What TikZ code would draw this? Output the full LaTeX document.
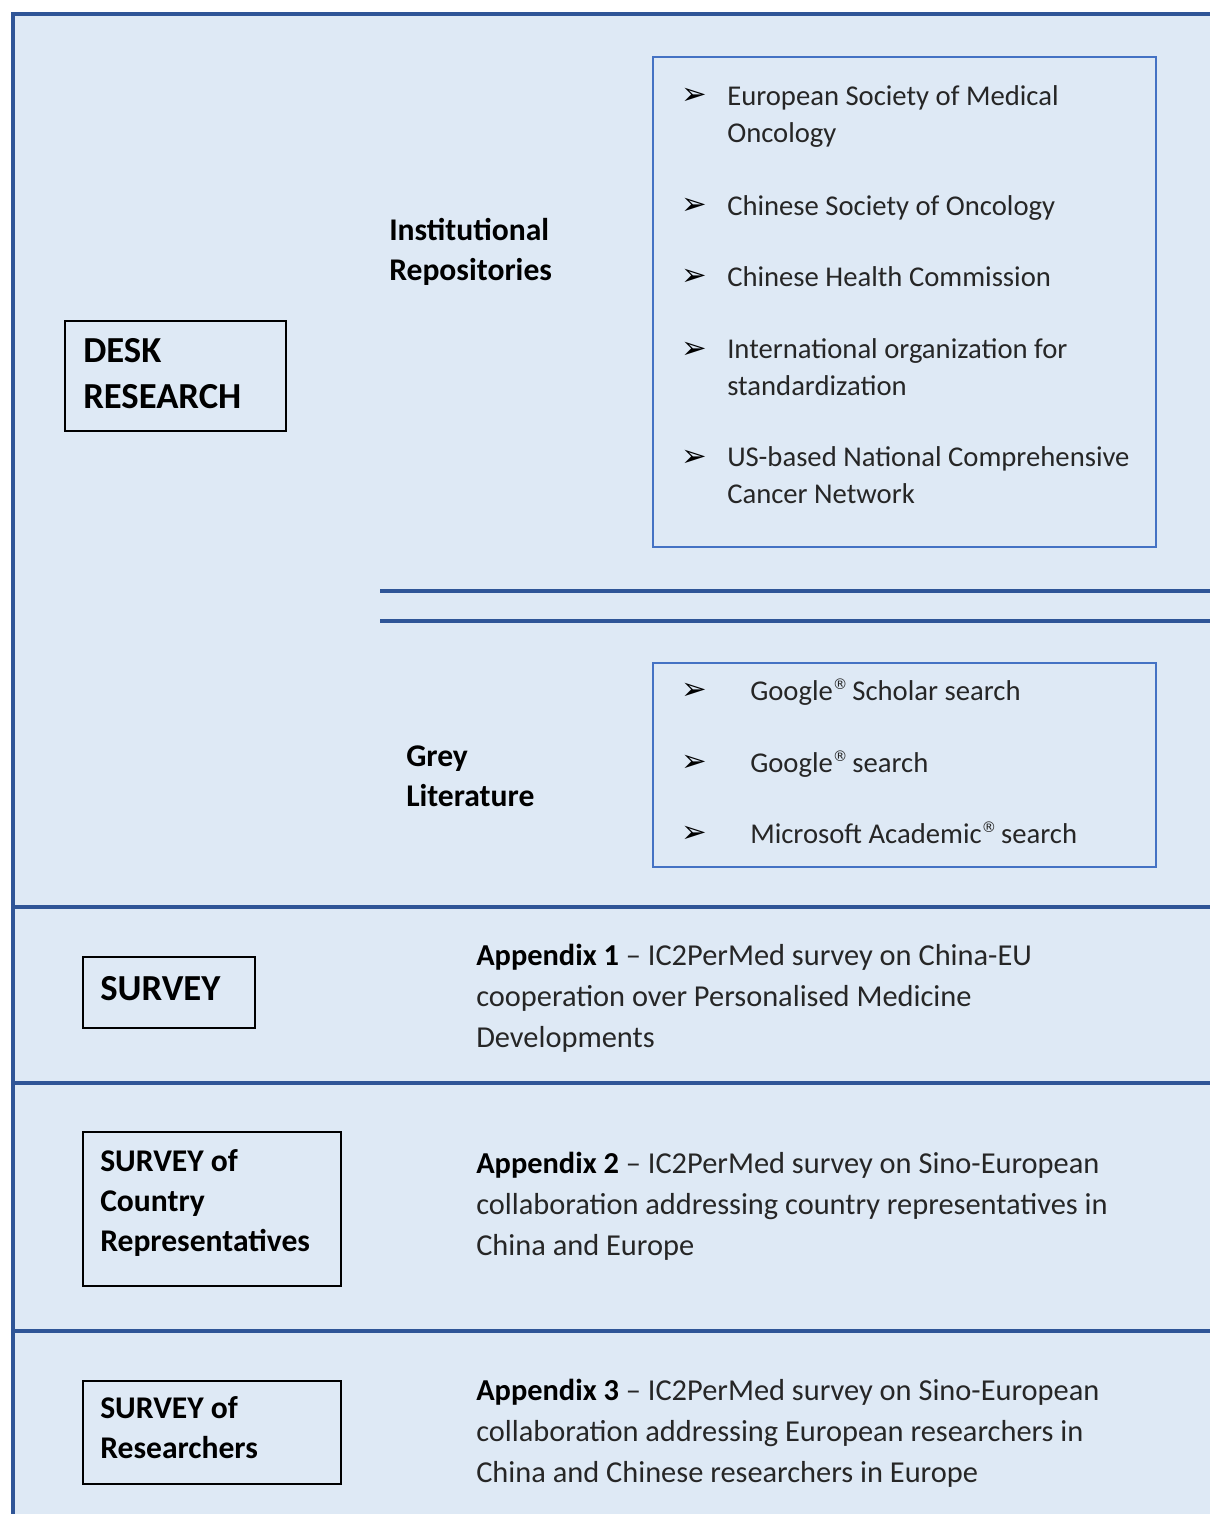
\documentclass[tikz,border=0pt]{standalone}
\usepackage{fontspec}
\setmainfont{Carlito}
\newfontfamily\symfont{DejaVu Sans}
\definecolor{framec}{HTML}{2F5597}
\definecolor{bgc}{HTML}{DEE9F5}
\definecolor{boxblue}{HTML}{4472C4}
\definecolor{txtc}{HTML}{262626}
\newcommand{\regmark}{\raisebox{0.36em}{\symfont\fontsize{11}{11}\selectfont ®}}
\begin{document}
\begin{tikzpicture}[x=0.75pt,y=-0.75pt,
  txt/.style={anchor=base west, inner sep=0pt, text=txtc, align=left, font=\fontsize{21.5}{27.75}\selectfont},
  apx/.style={anchor=base west, inner sep=0pt, text=txtc, align=left, font=\fontsize{22.8}{30.4}\selectfont},
  lbl/.style={anchor=base west, inner sep=0pt, text=black, align=left, font=\bfseries\fontsize{23.7}{30}\selectfont},
  big/.style={anchor=base west, inner sep=0pt, text=black, align=left, font=\bfseries\fontsize{27.5}{34.5}\selectfont},
  bul/.style={anchor=base west, inner sep=0pt, text=black, font=\symfont\fontsize{23}{23}\selectfont},
  blackbox/.style={draw=black, line width=1.5pt, fill=none},
  bluebox/.style={draw=boxblue, line width=1.1pt, fill=none},
  rule/.style={draw=framec, line width=2.4pt}]
\useasboundingbox (0,0) rectangle (1210,1514);
\fill[white] (0,0) rectangle (1210,1514);
\fill[bgc] (13,14) rectangle (1210,1514);
% frame
\coordinate (tl) at (13,14);
\coordinate (tr) at (1210,14);
\coordinate (bl) at (13,1514);
\draw[rule] (bl) -- (tl) -- (tr);
% section dividers
\coordinate (d1l) at (13,907); \coordinate (d1r) at (1210,907);
\coordinate (d2l) at (13,1083); \coordinate (d2r) at (1210,1083);
\coordinate (d3l) at (13,1331); \coordinate (d3r) at (1210,1331);
\draw[rule] (d1l) -- (d1r);
\draw[rule] (d2l) -- (d2r);
\draw[rule] (d3l) -- (d3r);
% double line
\coordinate (e1l) at (380,591); \coordinate (e1r) at (1210,591);
\coordinate (e2l) at (380,621); \coordinate (e2r) at (1210,621);
\draw[rule] (e1l) -- (e1r);
\draw[rule] (e2l) -- (e2r);
% boxes
\draw[blackbox] (65,321) rectangle (286,431);
\draw[blackbox] (83,957) rectangle (255,1028);
\draw[blackbox] (83,1132) rectangle (341,1286);
\draw[blackbox] (83,1381) rectangle (341,1484);
\draw[bluebox] (653,57) rectangle (1156,547);
\draw[bluebox] (653,663) rectangle (1156,867);
% left labels (anchor at last line baseline)
\node[big] (desk) at (83,408) {DESK\\RESEARCH};
\node[big] (survey) at (100,1000) {SURVEY};
\node[lbl] (country) at (100,1251) {SURVEY of\\Country\\Representatives};
\node[lbl] (researchers) at (100,1458) {SURVEY of\\Researchers};
\node[lbl] (inst) at (389,280) {Institutional\\Repositories};
\node[lbl] (grey) at (406,806) {Grey\\Literature};
% institutional list
\node[bul] (b1) at (681,104) {➢};
\node[txt] (i1) at (727,142) {European Society of Medical\\Oncology};
\node[bul] (b2) at (681,214) {➢};
\node[txt] (i2) at (727,215) {Chinese Society of Oncology};
\node[bul] (b3) at (681,285) {➢};
\node[txt] (i3) at (727,286) {Chinese Health Commission};
\node[bul] (b4) at (681,358) {➢};
\node[txt] (i4) at (727,395) {International organization for\\standardization};
\node[bul] (b5) at (681,466) {➢};
\node[txt] (i5) at (727,503) {US-based National Comprehensive\\Cancer Network};
% grey literature list
\node[bul] (g1b) at (681,699) {➢};
\node[txt] (g1) at (750,700) {Google\regmark\,Scholar search};
\node[bul] (g2b) at (681,771) {➢};
\node[txt] (g2) at (750,772) {Google\regmark\,search};
\node[bul] (g3b) at (681,842) {➢};
\node[txt] (g3) at (750,843) {Microsoft Academic\regmark\,search};
% appendices
\node[apx] (a1) at (476,1047) {\textbf{\color{black}Appendix 1} -- IC2PerMed survey on China-EU\\cooperation over Personalised Medicine\\Developments};
\node[apx] (a2) at (476,1255) {\textbf{\color{black}Appendix 2} -- IC2PerMed survey on Sino-European\\collaboration addressing country representatives in\\China and Europe};
\node[apx] (a3) at (476,1482) {\textbf{\color{black}Appendix 3} -- IC2PerMed survey on Sino-European\\collaboration addressing European researchers in\\China and Chinese researchers in Europe};
\end{tikzpicture}
\end{document}
